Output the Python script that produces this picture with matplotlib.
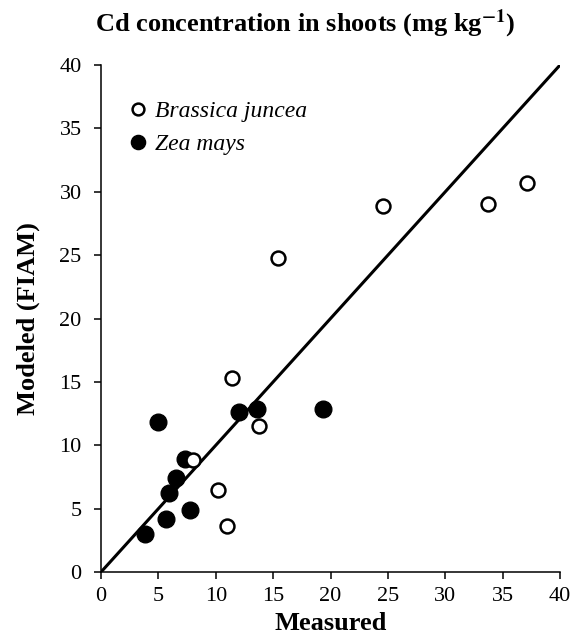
import matplotlib
matplotlib.use("Agg")
import matplotlib.pyplot as plt

plt.rcParams['font.family'] = ['Liberation Serif', 'DejaVu Serif']
plt.rcParams['mathtext.fontset'] = 'stix'

# Brassica juncea (open circles)
bj_measured = [8.0, 10.2, 11.0, 11.4, 13.8, 15.4, 24.6, 33.7, 37.1]
bj_modeled = [8.8, 6.5, 3.6, 15.3, 11.5, 24.8, 28.9, 29.0, 30.7]

# Zea mays (filled circles)
zm_measured = [3.8, 5.0, 5.7, 5.9, 6.5, 7.3, 7.75, 12.0, 13.6, 19.3]
zm_modeled = [3.0, 11.8, 4.2, 6.2, 7.4, 8.9, 4.9, 12.6, 12.9, 12.9]

# 1:1 line
line_x = [0, 40]
line_y = [0, 40]

fig = plt.figure(figsize=(5.75, 6.41), dpi=100)
ax = fig.add_axes([0.1757, 0.1076, 0.7983, 0.791])

ax.plot(line_x, line_y, color='black', lw=2.2, zorder=1)
ax.plot(bj_measured, bj_modeled, 'o', ms=10, mfc='white', mec='black',
        mew=1.8, ls='none', label='Brassica juncea', zorder=3)
ax.plot(zm_measured, zm_modeled, 'o', ms=12, mfc='black', mec='black',
        ls='none', label='Zea mays', zorder=2)

ax.set_xlim(0, 40)
ax.set_ylim(0, 40)
ax.set_xticks(range(0, 41, 5))
ax.set_yticks(range(0, 41, 5))
ax.spines['top'].set_visible(False)
ax.spines['right'].set_visible(False)
ax.spines['left'].set_linewidth(1.1)
ax.spines['bottom'].set_linewidth(1.1)
ax.tick_params(direction='out', length=5, width=1.1, labelsize=16)
ax.tick_params(axis='x', pad=6)
ax.tick_params(axis='y', pad=9)

ax.set_xlabel('Measured', fontsize=19, fontweight='bold', labelpad=4)
ax.set_ylabel('Modeled (FIAM)', fontsize=19, fontweight='bold', labelpad=14)
fig.text(0.530, 0.9626, r'Cd concentration in shoots (mg kg$^{\mathbf{-1}}$)',
         fontsize=19, fontweight='bold', ha='center', va='center')

ax.legend(loc='upper left', bbox_to_anchor=(0.054, 0.93), frameon=False,
          handlelength=1.0, handletextpad=0.24, borderpad=0, borderaxespad=0,
          labelspacing=0.5, markerscale=0.85,
          prop={'style': 'italic', 'size': 17})

fig.savefig('out.png', dpi=100)
